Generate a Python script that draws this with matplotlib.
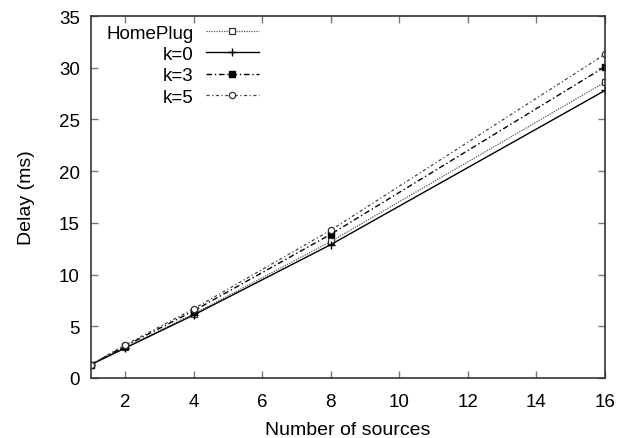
import matplotlib
matplotlib.use("Agg")
import matplotlib.pyplot as plt

plt.rcParams['font.family'] = ['Liberation Sans', 'DejaVu Sans']

sources = [1, 2, 4, 8, 16]
homeplug = [1.3, 2.95, 6.2, 13.2, 28.6]
k0 = [1.3, 2.9, 6.1, 12.9, 27.8]
k3 = [1.3, 3.1, 6.5, 13.9, 30.1]
k5 = [1.3, 3.2, 6.7, 14.3, 31.3]
xticks = [2, 4, 6, 8, 10, 12, 14, 16]
yticks = [0, 5, 10, 15, 20, 25, 30, 35]

fig = plt.figure(figsize=(6.34, 4.39), dpi=100)
ax = fig.add_axes([91/634, 1 - 379/439, (605 - 91)/634, (379 - 17)/439])

ax.plot(sources, homeplug, linestyle=(0, (1, 1)), color='#555555', lw=0.9,
        marker='s', ms=4.5, mfc='white', mec='#333333', mew=0.9, label='HomePlug')
ax.plot(sources, k0, linestyle='-', color='black', lw=1.0,
        marker='+', ms=6, mec='black', mew=1.0, label='k=0')
ax.plot(sources, k3, linestyle=(0, (4, 2, 1, 2)), color='black', lw=1.0,
        marker='s', ms=5, mfc='black', mec='black', label='k=3')
ax.plot(sources, k5, linestyle=(0, (2.5, 2, 1, 2)), color='#444444', lw=0.9,
        marker='o', ms=4.5, mfc='white', mec='#333333', mew=0.9, label='k=5')

ax.set_xlim(1, 16)
ax.set_ylim(0, 35)
ax.set_xticks(xticks)
ax.set_yticks(yticks)
ax.tick_params(direction='in', top=True, right=True, length=5, width=1,
               color='#777777', labelsize=13.5)
ax.tick_params(axis='x', pad=10.5)
ax.tick_params(axis='y', pad=8)
for s in ax.spines.values():
    s.set_linewidth(1.2)
    s.set_color('#333333')

ax.set_xlabel('Number of sources', fontsize=14, labelpad=8)
ax.set_ylabel('Delay (ms)', fontsize=14, labelpad=17)

ax.legend(loc='upper left', frameon=False, markerfirst=False, fontsize=13.5,
          handlelength=2.8, handletextpad=0.65, labelspacing=0.22,
          borderaxespad=0.0, borderpad=0.3,
          bbox_to_anchor=(10/514, 1 - 3/362))

fig.savefig('out.png', dpi=100)
